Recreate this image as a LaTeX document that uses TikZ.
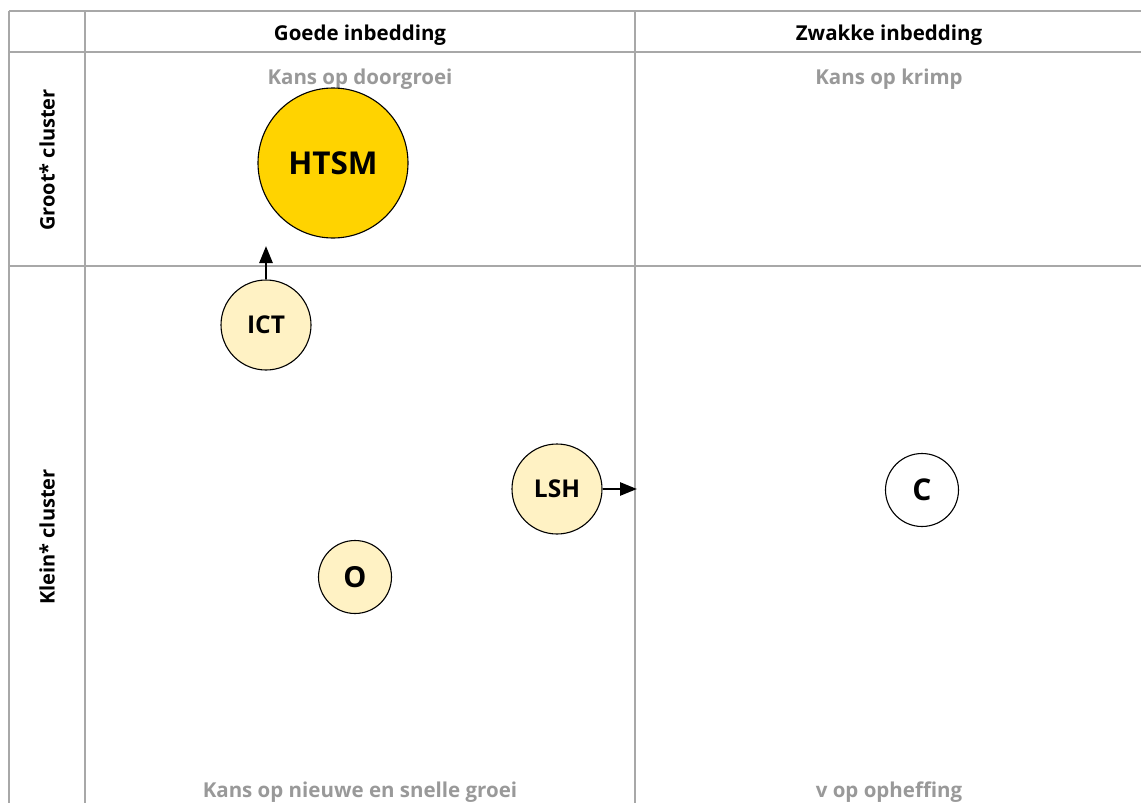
\documentclass[tikz,border=0pt]{standalone}
\usepackage{fontspec}
\setmainfont{Open Sans}
\usetikzlibrary{arrows.meta}
\definecolor{gridgray}{HTML}{A8A8A8}
\definecolor{labelgray}{HTML}{999999}
\definecolor{bigfill}{HTML}{FFD300}
\definecolor{smallfill}{HTML}{FFF2C4}
\tikzset{
  gridline/.style={draw=gridgray, line width=1.6pt},
  header/.style={font=\bfseries\fontsize{20.5}{22}\selectfont, text=black, inner sep=0pt},
  quadlabel/.style={font=\bfseries\fontsize{20.5}{22}\selectfont, text=labelgray, inner sep=0pt},
  rowlabel/.style={font=\bfseries\fontsize{20}{22}\selectfont, text=black, inner sep=0pt, rotate=90},
  bubble/.style={circle, draw=black, line width=1.1pt, inner sep=0pt, text=black,
                 font=\bfseries\fontsize{24.5}{26}\selectfont},
  move/.style={-{Triangle[length=17pt,width=13pt]}, line width=2.7pt, draw=black}
}
\begin{document}
\begin{tikzpicture}[x=1pt, y=-1pt]
\useasboundingbox (0,0) rectangle (1141,803);

% table rules
\draw[gridline] (9,11) -- (1141,11);
\draw[gridline] (9,52) -- (1141,52);
\draw[gridline] (9,266) -- (1141,266);
\draw[gridline] (9,11) -- (9,803);
\draw[gridline] (85,11) -- (85,803);
\draw[gridline] (635,11) -- (635,803);

% column and row headings
\node[header] (hgood) at (360,35) {Goede inbedding};
\node[header] (hweak) at (889,35) {Zwakke inbedding};
\node[rowlabel] (rbig) at (47,160) {Groot* cluster};
\node[rowlabel] (rsmall) at (47,537) {Klein* cluster};

% quadrant captions
\node[quadlabel] (qgrow) at (360,79) {Kans op doorgroei};
\node[quadlabel] (qshrink) at (889,79) {Kans op krimp};
\node[quadlabel] (qnew) at (360,792) {Kans op nieuwe en snelle groei};
\node[quadlabel] (qend) at (889,792) {v op opheffing};

% clusters
\node[bubble, fill=bigfill, minimum size=150pt, font=\bfseries\fontsize{31.5}{33}\selectfont] (htsm) at (333,163) {HTSM};
\node[bubble, fill=smallfill, minimum size=90pt] (ict) at (266,325) {ICT};
\node[bubble, fill=smallfill, minimum size=90pt] (lsh) at (557,489) {LSH};
\node[bubble, fill=smallfill, minimum size=73pt, font=\bfseries\fontsize{29}{31}\selectfont] (o) at (355,577) {O};
\node[bubble, fill=white, minimum size=73pt, font=\bfseries\fontsize{30}{32}\selectfont] (c) at (922,490) {C};

% expected movements
\coordinate (ictto) at (266,246);
\coordinate (lshto) at (637,489);
\draw[move] (ict.north) -- (ictto);
\draw[move] (lsh.east) -- (lshto);
\end{tikzpicture}
\end{document}
